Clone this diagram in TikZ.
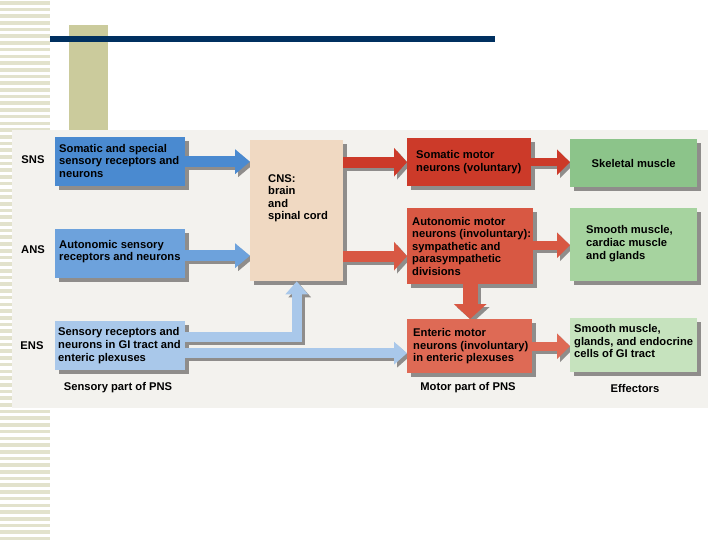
\documentclass[tikz,border=0pt]{standalone}
\usepackage{fontspec}
\setmainfont{Liberation Sans}
\usetikzlibrary{arrows.meta}
\definecolor{stripe}{HTML}{E2E2CC}
\definecolor{khaki}{HTML}{CBCB9C}
\definecolor{navy}{HTML}{003060}
\definecolor{panel}{HTML}{F3F2EE}
\definecolor{blueA}{HTML}{4A8AD0}
\definecolor{blueB}{HTML}{6DA2DC}
\definecolor{blueC}{HTML}{A9C8EA}
\definecolor{peach}{HTML}{F0D9C2}
\definecolor{redA}{HTML}{CC3A29}
\definecolor{redB}{HTML}{D85843}
\definecolor{redC}{HTML}{DE6A55}
\definecolor{greenA}{HTML}{8CC48A}
\definecolor{greenB}{HTML}{A6D39F}
\definecolor{greenC}{HTML}{C6E3BE}
\definecolor{shadowc}{HTML}{8F8D8B}
\newcommand\barrow[3]{%
  \draw[draw=shadowc, line join=miter, #2, transform canvas={xshift=3pt,yshift=-3pt}] #3;
  \draw[draw=#1, line join=miter, #2] #3;}
\begin{document}
\begin{tikzpicture}[x=1pt,y=-1pt,
  txt/.style={font=\fontsize{11.2}{12.6}\selectfont\bfseries, inner sep=0pt, align=left},
  box/.style={anchor=north west, inner sep=0pt, fill=#1,
    preaction={fill=shadowc, transform canvas={xshift=4pt,yshift=-4pt}}},
  face/.style={fill=#1}]
\useasboundingbox (0,0) rectangle (720,540);
\fill[white] (0,0) rectangle (720,540);
% decorative stripes
\foreach \i in {0,...,80} \fill[stripe] (0,\i*6.7+1) rectangle (50,\i*6.7+4.6);
\fill[khaki] (69,25) rectangle (108,135);
\fill[navy] (50,36) rectangle (495,42);
% panel
\fill[panel] (12,130) rectangle (708,408);

% boxes
\node[box=blueA, minimum width=130pt, minimum height=49pt] (sns) at (55,137) {};
\node[box=blueB, minimum width=130pt, minimum height=49pt] (ans) at (55,229) {};
\node[box=blueC, minimum width=130pt, minimum height=49pt] (ens) at (55,321) {};
\node[box=peach, minimum width=93pt, minimum height=141pt] (cns) at (250,140) {};
\node[box=redA, minimum width=124pt, minimum height=48pt] (somatic) at (407,138) {};
\node[box=redB, minimum width=126pt, minimum height=76pt] (autonomic) at (407,208) {};
\node[box=redC, minimum width=125pt, minimum height=54pt] (enteric) at (407,319) {};
\node[box=greenA, minimum width=127pt, minimum height=48pt] (skel) at (570,139) {};
\node[box=greenB, minimum width=127pt, minimum height=73pt] (smooth) at (570,208) {};
\node[box=greenC, minimum width=127pt, minimum height=54pt] (gi) at (570,318) {};

% arrow anchor points
\coordinate (c1) at ([yshift=-2pt]ans.east);
\coordinate (c2) at ([yshift=-10pt]autonomic.west);
\coordinate (c3) at ([yshift=1pt]autonomic.east);
\coordinate (e1) at ([yshift=8.5pt]ens.east);
\coordinate (e2) at ([yshift=-7.5pt]ens.east);

% arrows
\barrow{blueA}{line width=11pt,-{Triangle[length=15pt,width=24pt]}}{(sns.east) -- (cns.west |- sns.east)}
\barrow{blueB}{line width=11pt,-{Triangle[length=15pt,width=24pt]}}{(c1) -- (cns.west |- c1)}
\barrow{blueC}{line width=10pt,-{Triangle[length=13pt,width=22pt]}}{(e1) -- (e1 -| cns.south) -- (cns.south)}
\barrow{blueC}{line width=10pt,-{Triangle[length=13pt,width=22pt]}}{(e2) -- (e2 -| enteric.west)}
\barrow{redA}{line width=11pt,-{Triangle[length=13pt,width=28pt]}}{(cns.east |- somatic.west) -- (somatic.west)}
\barrow{redB}{line width=11pt,-{Triangle[length=13pt,width=28pt]}}{(cns.east |- c2) -- (c2)}
\barrow{redB}{line width=15pt,-{Triangle[length=15pt,width=32pt]}}{(autonomic.south) -- (autonomic.south |- enteric.north)}
\barrow{redA}{line width=8pt,-{Triangle[length=13pt,width=25pt]}}{(somatic.east) -- (skel.west |- somatic.east)}
\barrow{redB}{line width=9pt,-{Triangle[length=13pt,width=25pt]}}{(c3) -- (c3 -| smooth.west)}
\barrow{redC}{line width=9pt,-{Triangle[length=13pt,width=25pt]}}{(enteric.east) -- (gi.west |- enteric.east)}

% re-lay faces over intruding shadows
\fill[face=peach] (cns.north west) rectangle (cns.south east);
\fill[face=redA] (somatic.north west) rectangle (somatic.south east);
\fill[face=redB] (autonomic.north west) rectangle (autonomic.south east);
\fill[face=redC] (enteric.north west) rectangle (enteric.south east);
\fill[face=greenA] (skel.north west) rectangle (skel.south east);
\fill[face=greenB] (smooth.north west) rectangle (smooth.south east);
\fill[face=greenC] (gi.north west) rectangle (gi.south east);

% texts
\node[txt, anchor=west] (snst) at ([xshift=4pt,yshift=1pt]sns.west) {Somatic and special\\sensory receptors and\\neurons};
\node[txt, anchor=west] (anst) at ([xshift=4pt,yshift=2pt]ans.west) {Autonomic sensory\\receptors and neurons};
\node[txt, anchor=west] (enst) at ([xshift=3pt]ens.west) {Sensory receptors and\\neurons in GI tract and\\enteric plexuses};
\node[txt, anchor=north west] (cnst) at ([xshift=18pt,yshift=-34pt]cns.north west) {CNS:\\brain\\and\\spinal cord};
\node[txt, anchor=west] (somt) at ([xshift=9pt]somatic.west) {Somatic motor\\neurons (voluntary)};
\node[txt, anchor=west] (autt) at ([xshift=5pt]autonomic.west) {Autonomic motor\\neurons (involuntary):\\sympathetic and\\parasympathetic\\divisions};
\node[txt, anchor=west] (entt) at ([xshift=6pt]enteric.west) {Enteric motor\\neurons (involuntary)\\in enteric plexuses};
\node[txt] (skelt) at (skel.center) {Skeletal muscle};
\node[txt, anchor=west] (smt) at ([xshift=16pt,yshift=1pt]smooth.west) {Smooth muscle,\\cardiac muscle\\and glands};
\node[txt, anchor=west] (git) at ([xshift=4pt,yshift=4pt]gi.west) {Smooth muscle,\\glands, and endocrine\\cells of GI tract};

\node[txt] (lsns) at (33,160) {SNS};
\node[txt] (lans) at (33,250) {ANS};
\node[txt] (lens) at (32,346) {ENS};
\node[txt] (lsens) at (118,388) {Sensory part of PNS};
\node[txt] (lmot) at (468,388) {Motor part of PNS};
\node[txt] (leff) at (635,388) {Effectors};
\end{tikzpicture}
\end{document}
